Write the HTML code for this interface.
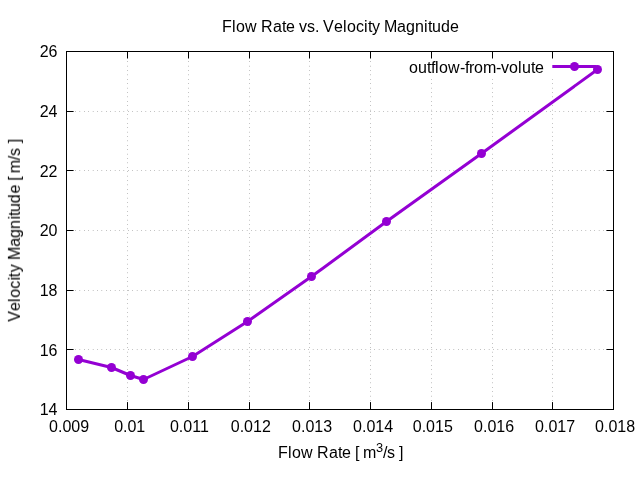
<!DOCTYPE html>
<html><head><meta charset="utf-8"><title>Flow Rate vs. Velocity Magnitude</title>
<style>
html,body{margin:0;padding:0;background:#fff;overflow:hidden;}
svg{display:block;will-change:transform;}
text{font-family:"Liberation Sans",Arial,sans-serif;font-size:16px;fill:#000;}
</style></head><body>
<svg width="640" height="480" viewBox="0 0 640 480">
<rect x="0" y="0" width="640" height="480" fill="#ffffff"/>

<g stroke="#000" stroke-width="0.6" stroke-dasharray="0.4 4" fill="none">
<line x1="127.5" y1="409.5" x2="127.5" y2="51.5"/>
<line x1="188.5" y1="409.5" x2="188.5" y2="51.5"/>
<line x1="249.5" y1="409.5" x2="249.5" y2="51.5"/>
<line x1="309.5" y1="409.5" x2="309.5" y2="51.5"/>
<line x1="370.5" y1="409.5" x2="370.5" y2="51.5"/>
<line x1="431.5" y1="409.5" x2="431.5" y2="51.5"/>
<line x1="492.5" y1="409.5" x2="492.5" y2="51.5"/>
<line x1="552.5" y1="409.5" x2="552.5" y2="51.5"/>
<line x1="66.5" y1="349.5" x2="613.5" y2="349.5"/>
<line x1="66.5" y1="290.5" x2="613.5" y2="290.5"/>
<line x1="66.5" y1="230.5" x2="613.5" y2="230.5"/>
<line x1="66.5" y1="170.5" x2="613.5" y2="170.5"/>
<line x1="66.5" y1="111.5" x2="613.5" y2="111.5"/>
</g>
<rect x="404" y="52" width="209.5" height="25.5" fill="#fff"/>
<g stroke="#000" stroke-width="1" fill="none">
<line x1="127.5" y1="409.5" x2="127.5" y2="402.1"/>
<line x1="127.5" y1="51.5" x2="127.5" y2="58.5"/>
<line x1="188.5" y1="409.5" x2="188.5" y2="402.1"/>
<line x1="188.5" y1="51.5" x2="188.5" y2="58.5"/>
<line x1="249.5" y1="409.5" x2="249.5" y2="402.1"/>
<line x1="249.5" y1="51.5" x2="249.5" y2="58.5"/>
<line x1="309.5" y1="409.5" x2="309.5" y2="402.1"/>
<line x1="309.5" y1="51.5" x2="309.5" y2="58.5"/>
<line x1="370.5" y1="409.5" x2="370.5" y2="402.1"/>
<line x1="370.5" y1="51.5" x2="370.5" y2="58.5"/>
<line x1="431.5" y1="409.5" x2="431.5" y2="402.1"/>
<line x1="431.5" y1="51.5" x2="431.5" y2="58.5"/>
<line x1="492.5" y1="409.5" x2="492.5" y2="402.1"/>
<line x1="492.5" y1="51.5" x2="492.5" y2="58.5"/>
<line x1="552.5" y1="409.5" x2="552.5" y2="402.1"/>
<line x1="552.5" y1="51.5" x2="552.5" y2="58.5"/>
<line x1="66.5" y1="349.5" x2="73.6" y2="349.5"/>
<line x1="613.5" y1="349.5" x2="606.4" y2="349.5"/>
<line x1="66.5" y1="290.5" x2="73.6" y2="290.5"/>
<line x1="613.5" y1="290.5" x2="606.4" y2="290.5"/>
<line x1="66.5" y1="230.5" x2="73.6" y2="230.5"/>
<line x1="613.5" y1="230.5" x2="606.4" y2="230.5"/>
<line x1="66.5" y1="170.5" x2="73.6" y2="170.5"/>
<line x1="613.5" y1="170.5" x2="606.4" y2="170.5"/>
<line x1="66.5" y1="111.5" x2="73.6" y2="111.5"/>
<line x1="613.5" y1="111.5" x2="606.4" y2="111.5"/>
</g>
<defs><mask id="tm" maskUnits="userSpaceOnUse" x="0" y="0" width="640" height="480"><rect x="0" y="0" width="640" height="480" fill="#fff"/></mask></defs>
<g mask="url(#tm)">
<g text-anchor="middle">
<text x="69.1" y="432">0.009</text>
<text x="129.7" y="432">0.01</text>
<text x="189.4" y="432">0.011</text>
<text x="250.8" y="432">0.012</text>
<text x="312.1" y="432">0.013</text>
<text x="373.1" y="432">0.014</text>
<text x="432.8" y="432">0.015</text>
<text x="494.1" y="432">0.016</text>
<text x="555.1" y="432">0.017</text>
<text x="615.1" y="432">0.018</text>
</g>
<g text-anchor="end">
<text x="57.5" y="414.75">14</text>
<text x="57.5" y="355.7">16</text>
<text x="57.5" y="295.75">18</text>
<text x="57.5" y="235.75">20</text>
<text x="57.5" y="176.7">22</text>
<text x="57.5" y="116.75">24</text>
<text x="57.5" y="56.75">26</text>
</g>
<text x="222 232 236 245 257 261 273 282 286 295 299 307 315 319 323 334 343 347 356 364 368 372 380 384 397 406 415 424 428 432 441 450" y="31.6">Flow Rate vs. Velocity Magnitude</text>
<text x="278 288 292 301 313 317 329 338 342 351 355 359 363" y="457.7">Flow Rate [ m</text>
<text x="376" y="451.7" style="font-size:12.8px">3</text>
<text x="383 387 395 399" y="457.7">/s ]</text>
<text transform="translate(19.9,230.5) rotate(-90)" x="-91.29 -80.52 -71.42 -67.17 -58.27 -50.07 -46.72 -41.77 -33.87 -29.48 -16.3 -7.45 1.5 10.9 14.45 18.5 27.3 36.9 45.59 49.64 53.48 57.13 70.26 74.4 82.6 87.15" y="0">Velocity Magnitude [ m/s ]</text>
<text x="409 418 427 431 435 439 448 460 465 469 474 483 496 501 509 518 522 531 535" y="73">outflow-from-volute</text>
</g>
<g stroke="#9400d3" stroke-width="3" fill="none" stroke-linejoin="round" stroke-linecap="butt">
<line x1="552.3" y1="66.5" x2="596.6" y2="66.5"/>
<polyline points="78.5,359.5 111.5,367.5 130.5,375.5 143.5,379.5 192.5,356.5 247.5,321.5 311.5,276.5 386.5,221.5 481.5,153.5 597.5,69.5"/>
</g>
<g fill="#9400d3" stroke="none">
<circle cx="574.5" cy="66.5" r="4.5"/>
<circle cx="78.5" cy="359.5" r="4.5"/>
<circle cx="111.5" cy="367.5" r="4.5"/>
<circle cx="130.5" cy="375.5" r="4.5"/>
<circle cx="143.5" cy="379.5" r="4.5"/>
<circle cx="192.5" cy="356.5" r="4.5"/>
<circle cx="247.5" cy="321.5" r="4.5"/>
<circle cx="311.5" cy="276.5" r="4.5"/>
<circle cx="386.5" cy="221.5" r="4.5"/>
<circle cx="481.5" cy="153.5" r="4.5"/>
<circle cx="597.5" cy="69.5" r="4.5"/>
</g>
<rect x="66.5" y="51.5" width="547.0" height="358.0" fill="none" stroke="#000" stroke-width="1" shape-rendering="crispEdges"/>
</svg>
</body></html>
